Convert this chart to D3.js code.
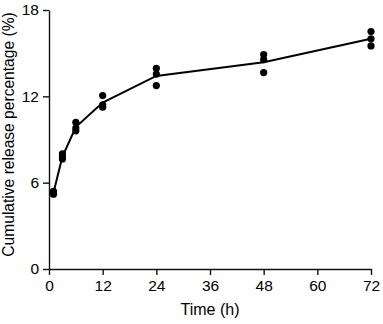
<!DOCTYPE html>
<html>
<head>
<meta charset="utf-8">
<script src="https://cdn.jsdelivr.net/npm/d3@7"></script>
<style>
  body { margin: 0; background: #fff; }
  text { font-family: "Liberation Sans", Arial, sans-serif; }
</style>
</head>
<body>
<div id="chart"></div>
<script>
// sampling times (h) and triplicate release values (%)
var times = [1, 3, 6, 12, 24, 48, 72];
var rep1 = [5.4, 8.0, 10.2, 12.05, 13.95, 14.9, 16.5];
var rep2 = [5.3, 7.8, 9.8, 11.4, 13.55, 14.55, 16.0];
var rep3 = [5.2, 7.65, 9.6, 11.25, 12.75, 13.65, 15.5];
var xTicks = [0, 12, 24, 36, 48, 60, 72];
var yTicks = [0, 6, 12, 18];

var margin = {top: 10, right: 12, bottom: 55, left: 49};
var width = 383 - margin.left - margin.right, height = 324 - margin.top - margin.bottom;

var svg = d3.select('#chart')
    .append('svg')
    .attr('width', 383)
    .attr('height', 324)
    .append('g')
    .attr('transform', 'translate(' + margin.left + ',' + margin.top + ')');

var x = d3.scaleLinear().domain([0, 72]).range([0, width]);
var y = d3.scaleLinear().domain([0, 18]).range([height, 0]);

var xAxis = svg.append('g')
    .attr('transform', 'translate(0,' + height + ')')
    .call(d3.axisBottom(x).tickValues(xTicks).tickSize(6).tickSizeOuter(0).tickPadding(5));
var yAxis = svg.append('g')
    .call(d3.axisLeft(y).tickValues(yTicks).tickSize(6).tickSizeOuter(0).tickPadding(4));

[xAxis, yAxis].forEach(function(a) {
  a.selectAll('path, line').attr('stroke', '#111').attr('stroke-width', 1.4);
  a.selectAll('text').attr('font-size', 15.5).attr('fill', '#000')
    .style('font-family', '"Liberation Sans", Arial, sans-serif');
});

var means = times.map(function(t, i) {
  return {t: t, v: (rep1[i] + rep2[i] + rep3[i]) / 3};
});

svg.append('path')
    .datum(means)
    .attr('fill', 'none')
    .attr('stroke', '#000')
    .attr('stroke-width', 2)
    .attr('d', d3.line().x(function(d) { return x(d.t); }).y(function(d) { return y(d.v); }));

var pts = [];
[rep1, rep2, rep3].forEach(function(r) {
  r.forEach(function(v, i) { pts.push({t: times[i], v: v}); });
});
svg.selectAll('circle.pt')
    .data(pts)
    .enter().append('circle')
    .attr('cx', function(d) { return x(d.t); })
    .attr('cy', function(d) { return y(d.v); })
    .attr('r', 3.6)
    .attr('fill', '#000');

svg.append('text')
    .attr('x', width / 2)
    .attr('y', height + 46)
    .attr('text-anchor', 'middle')
    .attr('font-size', 16)
    .text('Time (h)');

svg.append('text')
    .attr('transform', 'translate(' + (-35) + ',' + (height / 2 - 5) + ') rotate(-90)')
    .attr('text-anchor', 'middle')
    .attr('font-size', 15.6)
    .text('Cumulative release percentage (%)');
</script>
</body>
</html>
